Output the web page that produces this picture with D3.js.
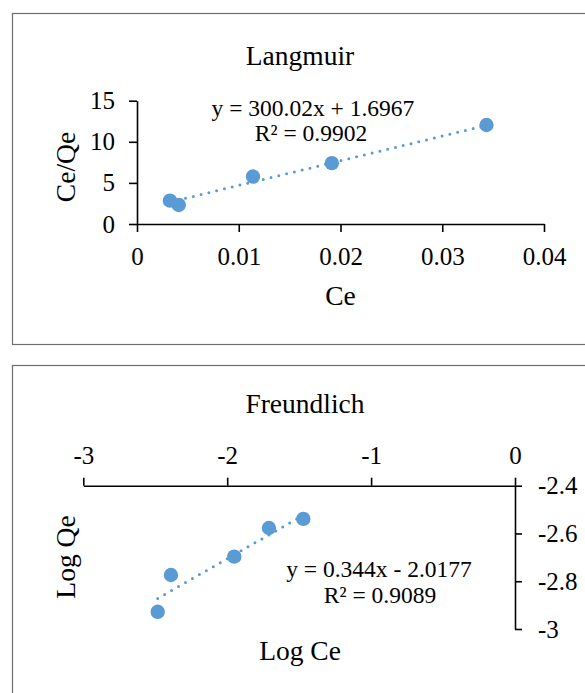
<!DOCTYPE html>
<html><head><meta charset="utf-8">
<script src="https://cdn.jsdelivr.net/npm/d3@7"></script>
<style>
html,body{margin:0;padding:0;background:#fff;overflow:hidden;}
svg{display:block;font-family:"Liberation Serif","Times New Roman",serif;}
</style></head>
<body>
<script>
// ---------- Data ----------
// Langmuir
const langCe = [0.00324, 0.0041, 0.0114, 0.01915, 0.03435];
const langCeQe = [2.84, 2.32, 5.77, 7.40, 12.04];
const langXTicks = [0, 0.01, 0.02, 0.03, 0.04];
const langYTicks = [0, 5, 10, 15];
const langSlope = 300.02, langIntercept = 1.6967;
const langEq = ["y = 300.02x + 1.6967", "R² = 0.9902"];
// Freundlich
const freLogCe = [-2.483, -2.391, -1.951, -1.710, -1.471];
const freLogQe = [-2.928, -2.774, -2.697, -2.577, -2.539];
const freXTicks = [-3, -2, -1, 0];
const freYTicks = [-3, -2.8, -2.6, -2.4];
const freSlope = 0.344, freIntercept = -2.0177;
const freEq = ["y = 0.344x - 2.0177", "R² = 0.9089"];

const W = 585, H = 693;
const blue = "#5B9BD5";
const svg = d3.select("body").append("svg").attr("width", W).attr("height", H);

// frames
svg.append("rect").attr("x", 12.5).attr("y", 13.5).attr("width", 580).attr("height", 331)
  .attr("fill", "none").attr("stroke", "#6e6e6e").attr("stroke-width", 1.2);
svg.append("rect").attr("x", 12.5).attr("y", 365.5).attr("width", 580).attr("height", 340)
  .attr("fill", "none").attr("stroke", "#6e6e6e").attr("stroke-width", 1.2);

function styleAxis(g) {
  g.selectAll("path,line").attr("stroke", "#000").attr("stroke-width", 1.6);
  g.selectAll("text").attr("font-family", "Liberation Serif, Times New Roman, serif")
    .attr("font-size", 25).attr("fill", "#000");
}
const fmt = d => String(+d.toFixed(4));

// ---------- Langmuir ----------
{
  const x = d3.scaleLinear().domain([0, 0.04]).range([137, 544]);
  const y = d3.scaleLinear().domain([0, 15]).range([224, 100.7]);
  const g = svg.append("g");
  g.append("text").attr("x", 300).attr("y", 65).attr("text-anchor", "middle")
    .attr("font-size", 27.5).text("Langmuir");
  const xa = g.append("g").attr("transform", `translate(0,${y(0)})`)
    .call(d3.axisBottom(x).tickValues(langXTicks).tickFormat(fmt).tickSize(8).tickSizeOuter(0).tickPadding(15));
  styleAxis(xa);
  const ya = g.append("g").attr("transform", `translate(${x(0)},0)`)
    .call(d3.axisLeft(y).tickValues(langYTicks).tickFormat(fmt).tickSize(8).tickSizeOuter(0).tickPadding(14));
  styleAxis(ya);
  g.append("text").attr("x", x(0.02)).attr("y", 305).attr("text-anchor", "middle")
    .attr("font-size", 27.5).text("Ce");
  g.append("text").attr("transform", "translate(75,167) rotate(-90)").attr("text-anchor", "middle")
    .attr("font-size", 27.5).text("Ce/Qe");
  const data = langCe.map((c, i) => [c, langCeQe[i]]);
  g.selectAll("circle").data(data).join("circle")
    .attr("cx", d => x(d[0])).attr("cy", d => y(d[1])).attr("r", 7.2).attr("fill", blue);
  const x0 = d3.min(langCe), x1 = d3.max(langCe);
  g.append("line").attr("x1", x(x0)).attr("y1", y(langSlope * x0 + langIntercept))
    .attr("x2", x(x1)).attr("y2", y(langSlope * x1 + langIntercept))
    .attr("stroke", blue).attr("stroke-width", 3).attr("stroke-linecap", "round")
    .attr("stroke-dasharray", "0,8");
  g.append("text").attr("x", 313).attr("y", 116).attr("text-anchor", "middle")
    .attr("font-size", 23.5).text(langEq[0]);
  g.append("text").attr("x", 311).attr("y", 141).attr("text-anchor", "middle")
    .attr("font-size", 23.5).text(langEq[1]);
}

// ---------- Freundlich ----------
{
  const x = d3.scaleLinear().domain([-3, 0]).range([83.3, 515]);
  const y = d3.scaleLinear().domain([-3, -2.4]).range([629, 485.7]);
  const g = svg.append("g");
  g.append("text").attr("x", 305).attr("y", 413).attr("text-anchor", "middle")
    .attr("font-size", 27.5).text("Freundlich");
  const xa = g.append("g").attr("transform", `translate(0,${y(-2.4)})`)
    .call(d3.axisTop(x).tickValues(freXTicks).tickFormat(fmt).tickSize(8).tickSizeOuter(0).tickPadding(14));
  styleAxis(xa);
  const ya = g.append("g").attr("transform", `translate(${x(0)},0)`)
    .call(d3.axisRight(y).tickValues(freYTicks).tickFormat(fmt).tickSize(7).tickSizeOuter(0).tickPadding(16));
  styleAxis(ya);
  g.append("text").attr("x", 300).attr("y", 660).attr("text-anchor", "middle")
    .attr("font-size", 27.5).text("Log Ce");
  g.append("text").attr("transform", "translate(75,557) rotate(-90)").attr("text-anchor", "middle")
    .attr("font-size", 27.5).text("Log Qe");
  const data = freLogCe.map((c, i) => [c, freLogQe[i]]);
  g.selectAll("circle").data(data).join("circle")
    .attr("cx", d => x(d[0])).attr("cy", d => y(d[1])).attr("r", 7.2).attr("fill", blue);
  const x0 = d3.min(freLogCe), x1 = d3.max(freLogCe);
  g.append("line").attr("x1", x(x0)).attr("y1", y(freSlope * x0 + freIntercept))
    .attr("x2", x(x1)).attr("y2", y(freSlope * x1 + freIntercept))
    .attr("stroke", blue).attr("stroke-width", 3).attr("stroke-linecap", "round")
    .attr("stroke-dasharray", "0,8");
  g.append("text").attr("x", 379).attr("y", 577).attr("text-anchor", "middle")
    .attr("font-size", 23.5).text(freEq[0]);
  g.append("text").attr("x", 380).attr("y", 603).attr("text-anchor", "middle")
    .attr("font-size", 23.5).text(freEq[1]);
}
</script>
</body></html>
